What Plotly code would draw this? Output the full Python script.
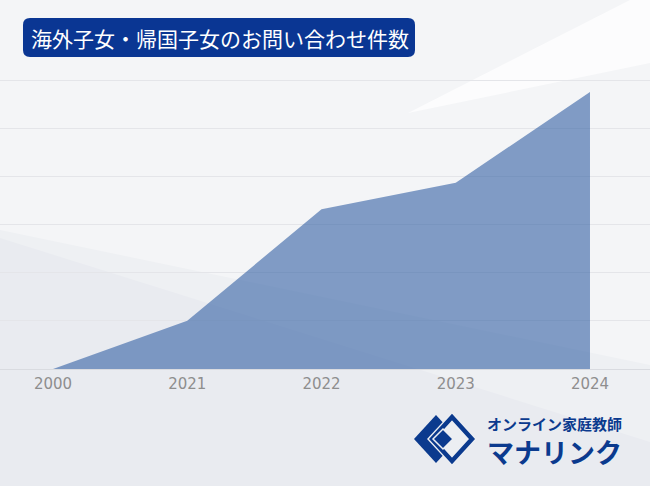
import plotly.graph_objects as go

# ---- data ----
years = ["2000", "2021", "2022", "2023", "2024"]
inquiries = [0, 1.0, 3.32, 3.87, 5.75]
title_text = "海外子女・帰国子女のお問い合わせ件数"
logo_sub = "オンライン家庭教師"
logo_main = "マナリンク"

# ---- geometry helpers (pixel -> paper) ----
W, H = 650, 486
T, B = 56, 117
PH = H - T - B


def X(px):
    return px / W


def Y(py):
    return (H - B - py) / PH


def poly(pts):
    return "M " + " L ".join(f"{X(x):.5f},{Y(y):.5f}" for x, y in pts) + " Z"


def diamond(cx, cy, hw, hh):
    return poly([(cx - hw, cy), (cx, cy - hh), (cx + hw, cy), (cx, cy + hh)])


def rrect(x0, y0, x1, y1, r):
    p = []
    p.append(f"M {X(x0 + r):.5f},{Y(y0):.5f}")
    p.append(f"L {X(x1 - r):.5f},{Y(y0):.5f}")
    p.append(f"Q {X(x1):.5f},{Y(y0):.5f} {X(x1):.5f},{Y(y0 + r):.5f}")
    p.append(f"L {X(x1):.5f},{Y(y1 - r):.5f}")
    p.append(f"Q {X(x1):.5f},{Y(y1):.5f} {X(x1 - r):.5f},{Y(y1):.5f}")
    p.append(f"L {X(x0 + r):.5f},{Y(y1):.5f}")
    p.append(f"Q {X(x0):.5f},{Y(y1):.5f} {X(x0):.5f},{Y(y1 - r):.5f}")
    p.append(f"L {X(x0):.5f},{Y(y0 + r):.5f}")
    p.append(f"Q {X(x0):.5f},{Y(y0):.5f} {X(x0 + r):.5f},{Y(y0):.5f}")
    return " ".join(p) + " Z"


BG = "#f4f5f7"
NAVY = "#0a3693"
LOGO = "#0b3a8e"
GAP = "#eceef2"

fig = go.Figure()
fig.add_trace(go.Scatter(
    x=years, y=inquiries, mode="lines", fill="tozeroy",
    line=dict(width=0, color="rgba(50,95,163,0.6)"),
    fillcolor="rgba(50,95,163,0.6)", hoverinfo="skip", showlegend=False,
))

shapes = []
# background decorations
shapes.append(dict(type="path", xref="paper", yref="paper", layer="below",
                   path=poly([(0, 230), (650, 365), (650, 486), (0, 486)]),
                   fillcolor="#eef0f3", line=dict(width=0)))
shapes.append(dict(type="path", xref="paper", yref="paper", layer="below",
                   path=poly([(0, 238), (650, 442), (650, 486), (0, 486)]),
                   fillcolor="#e9ebf0", line=dict(width=0)))
shapes.append(dict(type="path", xref="paper", yref="paper", layer="below",
                   path=poly([(408, 113), (630, 0), (650, 0), (650, 63)]),
                   fillcolor="#fcfcfd", line=dict(width=0)))

# title box
shapes.append(dict(type="path", xref="paper", yref="paper",
                   path=rrect(23, 18, 415, 57, 7),
                   fillcolor=NAVY, line=dict(width=0)))

# logo icon
shapes.append(dict(type="path", xref="paper", yref="paper",
                   path=diamond(436, 439, 22, 24), fillcolor=LOGO, line=dict(width=0)))
shapes.append(dict(type="path", xref="paper", yref="paper",
                   path=diamond(452, 439, 25, 27), fillcolor=GAP, line=dict(width=0)))
shapes.append(dict(type="path", xref="paper", yref="paper",
                   path=diamond(452, 439, 20, 22), fillcolor="rgba(0,0,0,0)",
                   line=dict(width=4.5, color=LOGO)))
shapes.append(dict(type="path", xref="paper", yref="paper",
                   path=diamond(443, 439, 10, 10), fillcolor=LOGO,
                   line=dict(width=1.5, color=GAP)))

annotations = [
    dict(text=title_text, x=X(220), y=Y(38), xref="paper", yref="paper",
         showarrow=False, xanchor="center", yanchor="middle",
         font=dict(family="Noto Sans CJK JP", size=21, color="white")),
    dict(text=f"<b>{logo_sub}</b>", x=X(554), y=Y(423), xref="paper", yref="paper",
         showarrow=False, xanchor="center", yanchor="middle",
         font=dict(family="Noto Sans CJK JP", size=15, color=LOGO)),
    dict(text=f"<b>{logo_main}</b>", x=X(554), y=Y(451), xref="paper", yref="paper",
         showarrow=False, xanchor="center", yanchor="middle",
         font=dict(family="Noto Sans CJK JP", size=27, color=LOGO)),
]

fig.update_layout(
    width=W, height=H,
    margin=dict(l=0, r=0, t=T, b=B, pad=0),
    paper_bgcolor=BG, plot_bgcolor="rgba(0,0,0,0)",
    shapes=shapes, annotations=annotations, showlegend=False,
    xaxis=dict(type="category", range=[-0.395, 4.447], showgrid=False,
               showline=True, linecolor="#d9dbe0", linewidth=1, zeroline=False,
               ticks="", ticklabelstandoff=1,
               tickfont=dict(family="DejaVu Sans", size=15, color="#8e8e8e"),
               fixedrange=True),
    yaxis=dict(range=[0, 6.5], tick0=0, dtick=1, showticklabels=False,
               showgrid=True, gridcolor="#e4e5e9", gridwidth=1, zeroline=False,
               fixedrange=True),
)

fig.write_html(
    "out.html",
    config={"displayModeBar": False},
    post_script="document.body.style.margin='0';document.body.style.padding='0';document.body.style.overflow='hidden';",
)
